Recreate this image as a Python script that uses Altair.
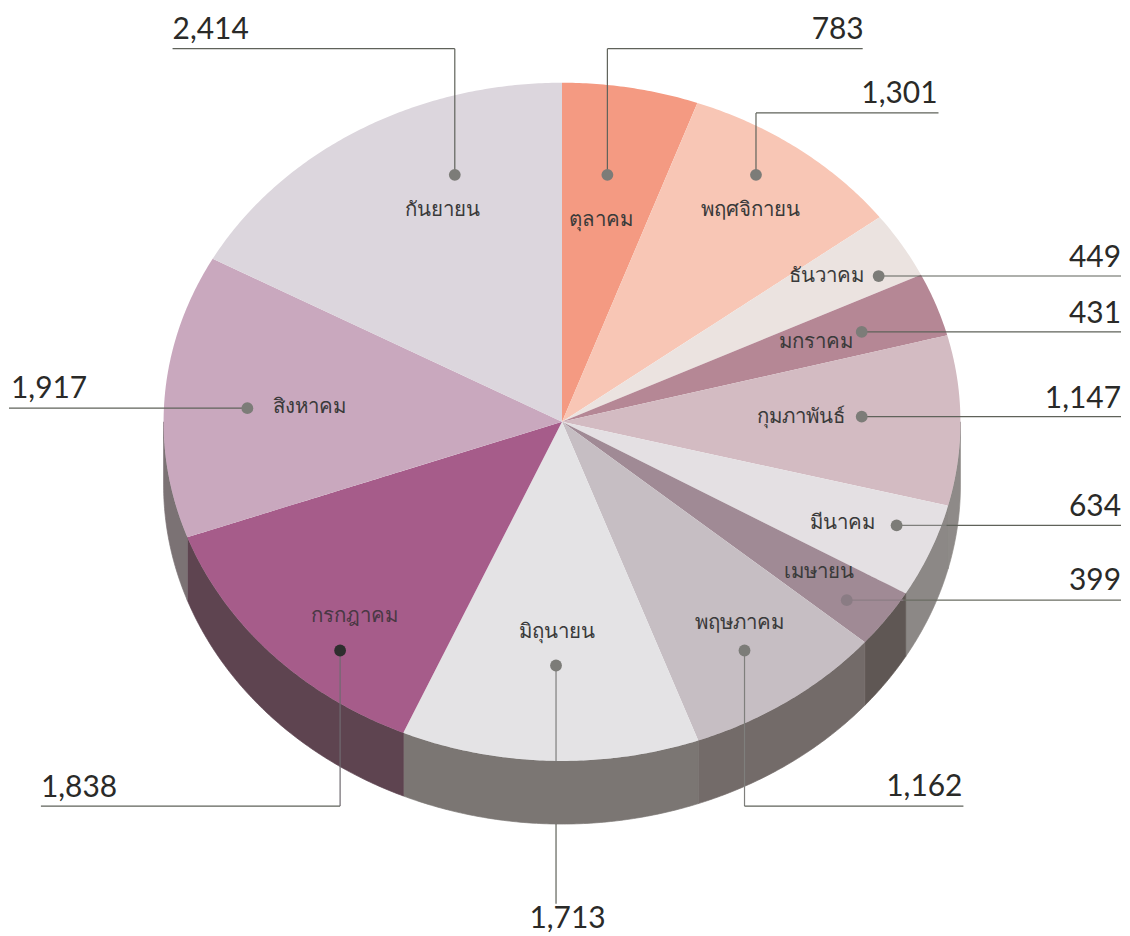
import numpy as np
import pandas as pd
import altair as alt

alt.data_transformers.disable_max_rows()

# --- data -----------------------------------------------------------------
months = ["ตุลาคม", "พฤศจิกายน", "ธันวาคม", "มกราคม", "กุมภาพันธ์", "มีนาคม",
          "เมษายน", "พฤษภาคม", "มิถุนายน", "กรกฎาคม", "สิงหาคม", "กันยายน"]
values = [783, 1301, 449, 431, 1147, 634, 399, 1162, 1713, 1838, 1917, 2414]
top_colors = ["#F49A82", "#F8C6B5", "#EBE3E0", "#B58795", "#D3BBC2", "#E4E0E3",
              "#A08A95", "#C6BEC3", "#E4E3E5", "#A65C8A", "#C9A8BE", "#DCD6DD"]
side_colors = ["#8A8684", "#8A8684", "#8A8684", "#8A8684", "#8E8A88", "#8C8886",
               "#5F5754", "#736B69", "#7B7673", "#5E4450", "#7B7274", "#8A8684"]

# positions of the annotations (page pixels)
dot_x = [608, 757, 880, 863, 863, 898, 848, 745.5, 556.5, 340, 247, 455]
dot_y = [174, 174, 275.5, 331.5, 416.5, 525.5, 600.5, 651, 666, 651, 408, 174]
dot_colors = ["#7C7C78"] * 6 + ["#8A7C84"] + ["#7C7C78"] * 2 + ["#2E2E2E"] + ["#7C7C78"] * 2
label_x = [602, 752, 828, 817, 802, 844, 820, 740, 557, 354, 309, 443]
label_y = [219, 209, 275, 342, 417, 523, 572, 623, 632, 616, 407, 209]
label_colors = ["#3A3A3A"] * 9 + ["#4A3844"] + ["#3A3A3A"] * 2
value_text = ["783", "1,301", "449", "431", "1,147", "634", "399", "1,162",
              "1,713", "1,838", "1,917", "2,414"]
value_x = [865, 939, 1123, 1123, 1123, 1123, 1123, 964, 568, 40, 10, 172]
value_y = [37.5, 102, 266, 322.5, 408, 516, 590, 797, 929, 798, 398, 37.5]
value_align = ["right"] * 8 + ["center", "left", "left", "left"]
# leader lines: x, y, x2, y2, colour
seg_x1 = [608, 608, 757, 757, 880, 863, 863, 898, 948, 848, 905, 745.5, 745.5, 556.5, 556.5, 340, 40, 247, 455, 172]
seg_y1 = [174, 47.5, 174, 112, 275.5, 331.5, 416.5, 525.5, 525.5, 600.5, 600.5, 651, 807, 666, 825, 651, 807, 408, 174, 47.5]
seg_x2 = [608, 864, 757, 940, 1123, 1123, 1123, 948, 1123, 905, 1123, 745.5, 965, 556.5, 556.5, 340, 340, 8, 455, 455]
seg_y2 = [47.5, 47.5, 112, 112, 275.5, 331.5, 416.5, 525.5, 525.5, 600.5, 600.5, 807, 807, 762, 905, 807, 807, 408, 47.5, 47.5]
seg_colors = ["#5F625A"] * 7 + ["#7F7F7C", "#5F625A", "#8B7C84", "#6A6C62", "#7F7F7C",
                                "#5F625A", "#7F7F7C", "#5F625A", "#6F6A70", "#5F625A",
                                "#5F625A", "#5F625A", "#5F625A"]

# ellipse geometry of the tilted pie
CX, CY, RX, RY, DEPTH = 562.5, 421.7, 399.5, 340, 63.3


def envelope(px, py):
    """Upper and lower outline of a convex polygon, for an x/y/y2 area."""
    px, py = np.asarray(px), np.asarray(py)
    xs = np.unique(np.round(px, 3))
    rows = []
    qx, qy = np.roll(px, -1), np.roll(py, -1)
    for x in xs:
        hit = []
        for a, b, c, d in zip(px, py, qx, qy):
            lo, hi = min(a, c), max(a, c)
            if lo - 1e-3 <= x <= hi + 1e-3:
                if abs(c - a) < 1e-6:
                    hit += [b, d]
                else:
                    hit.append(b + (x - a) / (c - a) * (d - b))
        rows.append((x, min(hit), max(hit)))
    return rows


ends = np.cumsum(values) / np.sum(values) * 2 * np.pi
starts = np.concatenate([[0], ends[:-1]])
tops, sides = [], []
for i, m in enumerate(months):
    t = np.linspace(starts[i], ends[i], max(8, int((ends[i] - starts[i]) * 120)))
    ax = CX + RX * np.sin(t)
    ay = CY - RY * np.cos(t)
    for x, y0, y1 in envelope(np.r_[CX, ax], np.r_[CY, ay]):
        tops.append(dict(month=m, x=x, y=y0, y2=y1))
    lo, hi = max(starts[i], np.pi / 2), min(ends[i], 3 * np.pi / 2)
    if hi > lo:
        s = np.linspace(lo, hi, max(8, int((hi - lo) * 120)))
        for a in s:
            x = CX + RX * np.sin(a)
            y = CY - RY * np.cos(a)
            sides.append(dict(month=m, x=x, y=y, y2=y + DEPTH))

top_df = pd.DataFrame(tops)
side_df = pd.DataFrame(sides)
seg_df = pd.DataFrame(dict(x=seg_x1, y=seg_y1, x2=seg_x2, y2=seg_y2, c=seg_colors))
dot_df = pd.DataFrame(dict(x=dot_x, y=dot_y, c=dot_colors))
lab_df = pd.DataFrame(dict(x=label_x, y=label_y, t=months, c=label_colors))
val_df = pd.DataFrame(dict(x=value_x, y=value_y, t=value_text, a=value_align))

W, H = 1114, 920
sx = alt.Scale(domain=[8, 8 + W], range=[0, W], nice=False, zero=False)
sy = alt.Scale(domain=[8, 8 + H], range=[0, H], nice=False, zero=False)
X = alt.X("x:Q", scale=sx, axis=None)
Y = alt.Y("y:Q", scale=sy, axis=None)
X2 = alt.X2("x2:Q")
Y2 = alt.Y2("y2:Q")

side_scale = alt.Scale(domain=months, range=side_colors)
side_layer = alt.Chart(side_df).mark_area(interpolate="linear", strokeWidth=0.7).encode(
    x=X, y=Y, y2=Y2,
    color=alt.Color("month:N", scale=side_scale, legend=None),
    stroke=alt.Stroke("month:N", scale=side_scale, legend=None),
)
top_layer = alt.Chart(top_df).mark_area(interpolate="linear").encode(
    x=X, y=Y, y2=Y2,
    color=alt.Color("month:N", scale=alt.Scale(domain=months, range=top_colors), legend=None),
)
seg_layer = alt.Chart(seg_df).mark_rule(strokeWidth=1.2).encode(
    x=X, y=Y, x2=X2, y2=Y2, color=alt.Color("c:N", scale=None))
dot_layer = alt.Chart(dot_df).mark_circle(size=140, opacity=1).encode(
    x=X, y=Y, color=alt.Color("c:N", scale=None))
lab_layer = alt.Chart(lab_df).mark_text(
    font="Noto Sans", fontSize=20.5, align="center", baseline="middle"
).encode(x=X, y=Y, text="t:N", color=alt.Color("c:N", scale=None))
val_layers = [
    alt.Chart(val_df[val_df.a == a]).mark_text(
        font="Lato", fontSize=30, align=a, baseline="alphabetic", color="#2A2A28"
    ).encode(x=X, y=Y, text="t:N")
    for a in ["left", "center", "right"]
]

chart = alt.layer(side_layer, top_layer, seg_layer, dot_layer, lab_layer, *val_layers).resolve_scale(
    color="independent", stroke="independent"
).properties(
    width=W, height=H, padding=0, background="#FFFFFF"
).configure_view(stroke=None)

chart.save("out.html", embed_options={"renderer": "svg", "actions": False})
